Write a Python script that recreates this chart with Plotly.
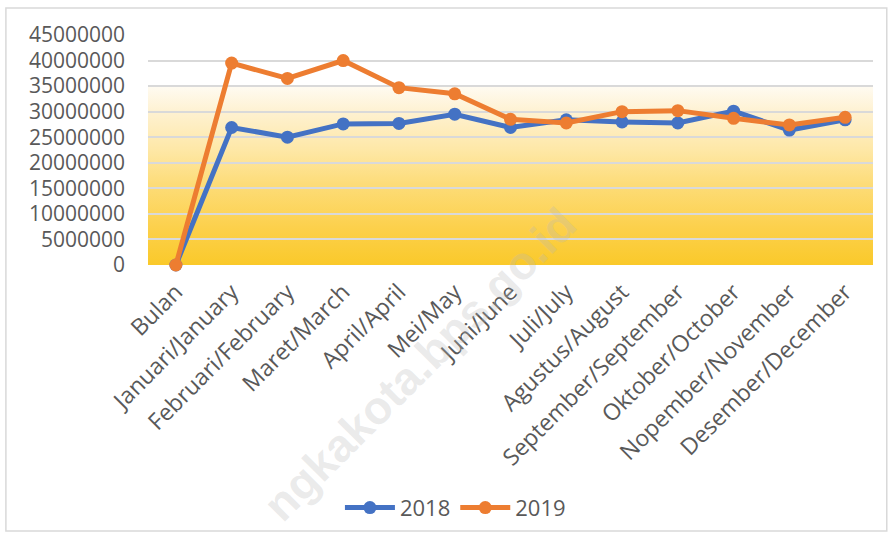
import base64

import plotly.graph_objects as go

categories = [
    "Bulan", "Januari/January", "Februari/February", "Maret/March",
    "April/April", "Mei/May", "Juni/June", "Juli/July", "Agustus/August",
    "September/September", "Oktober/October", "Nopember/November",
    "Desember/December",
]
values_2018 = [0, 26900000, 25000000, 27600000, 27700000, 29500000, 26900000,
               28400000, 28000000, 27800000, 30100000, 26400000, 28400000]
values_2019 = [0, 39500000, 36500000, 40000000, 34700000, 33500000, 28500000,
               27800000, 30000000, 30200000, 28700000, 27400000, 28900000]
y_ticks = [0, 5000000, 10000000, 15000000, 20000000, 25000000, 30000000,
           35000000, 40000000, 45000000]

TEXT = "#595959"
FONT = "Open Sans"

# background gradient of the plot area (white -> gold), as an svg image
svg = (
    '<svg xmlns="http://www.w3.org/2000/svg" width="10" height="100" '
    'viewBox="0 0 10 100" preserveAspectRatio="none">'
    '<defs><linearGradient id="g" x1="0" y1="0" x2="0" y2="1">'
    '<stop offset="0" stop-color="#FFFBF2"/>'
    '<stop offset="0.15" stop-color="#FEF1D0"/>'
    '<stop offset="0.35" stop-color="#FEE8A8"/>'
    '<stop offset="0.55" stop-color="#FDDC78"/>'
    '<stop offset="0.8" stop-color="#FCD04A"/>'
    '<stop offset="1" stop-color="#FAC92A"/>'
    '</linearGradient></defs>'
    '<rect width="10" height="100" fill="url(#g)"/></svg>'
)
svg_uri = "data:image/svg+xml;base64," + base64.b64encode(svg.encode()).decode()

fig = go.Figure()
fig.add_trace(go.Scatter(
    x=categories, y=values_2018, name="2018", mode="lines+markers",
    line=dict(color="#4472C4", width=5), marker=dict(size=13, color="#4472C4"),
    cliponaxis=False,
))
fig.add_trace(go.Scatter(
    x=categories, y=values_2019, name="2019", mode="lines+markers",
    line=dict(color="#ED7D31", width=5), marker=dict(size=13, color="#ED7D31"),
    cliponaxis=False,
))

fig.update_layout(
    width=893, height=539,
    margin=dict(l=148, r=20, t=35, b=274),
    paper_bgcolor="white", plot_bgcolor="white",
    font=dict(family=FONT, color=TEXT),
    showlegend=True,
    legend=dict(
        orientation="h", xref="container", yref="container",
        x=0.51, y=0.058, xanchor="center", yanchor="middle",
        font=dict(size=22, color=TEXT), itemwidth=50,
        bgcolor="rgba(0,0,0,0)",
    ),
    images=[dict(
        source=svg_uri, xref="paper", yref="y", x=0, y=35000000,
        sizex=1, sizey=35000000, sizing="stretch", layer="below",
        xanchor="left", yanchor="top",
    )],
    shapes=[dict(
        type="rect", xref="paper", yref="paper",
        x0=-0.196, x1=1.019, y0=-1.157, y1=1.117,
        line=dict(color="#D9D9D9", width=1.5), fillcolor="rgba(0,0,0,0)",
        layer="below",
    )],
    annotations=[dict(
        text="<b>ngkakota.bps.go.id</b>", xref="paper", yref="paper",
        x=0.375, y=-0.43, xanchor="center", yanchor="middle",
        textangle=-45, showarrow=False,
        font=dict(family="Liberation Sans", size=46, color="rgba(185,185,185,0.3)"),
    )],
)

fig.update_xaxes(
    type="category", range=[-0.5, 12.5], showgrid=False, zeroline=False,
    showline=False, ticks="", tickangle=-45, automargin=False,
    ticklabelstandoff=8,
    tickfont=dict(size=23, color=TEXT, family=FONT),
)
fig.update_yaxes(
    range=[0, 45000000], tickvals=y_ticks, tickformat="d", automargin=False,
    showgrid=True, gridcolor="#D9D9D9", gridwidth=2, zeroline=False,
    showline=False, ticks="", ticklabelstandoff=22,
    tickfont=dict(size=21, color=TEXT, family=FONT),
)

# the page body has a default 8px margin; drop it so the figure sits at 0,0
fig.write_html(
    "out.html",
    config={"displayModeBar": False},
    post_script="document.body.style.margin='0px';",
)
